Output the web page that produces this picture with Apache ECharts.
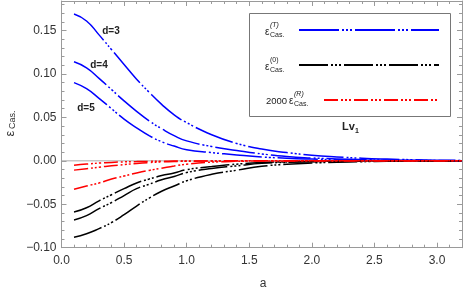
<!DOCTYPE html>
<html><head><meta charset="utf-8">
<script src="https://cdn.jsdelivr.net/npm/echarts@6/dist/echarts.min.js"></script>
<style>html,body{margin:0;padding:0;background:#fff}#c{width:463px;height:295px}</style>
</head><body><div id="c"></div>
<script>
const aValues = [0.1,0.2,0.3,0.4,0.5,0.6,0.7,0.8,0.9,1.0,1.2,1.4,1.6,1.8,2.0,2.2,2.4,2.6,2.8,3.0,3.2];
const epsT_d3 = [0.169,0.161,0.145,0.128,0.111,0.094,0.079,0.065,0.053,0.044,0.030,0.020,0.0135,0.0095,0.0065,0.0045,0.003,0.002,0.0013,0.0008,0.0005];
const epsT_d4 = [0.114,0.107,0.095,0.082,0.069,0.057,0.046,0.037,0.029,0.023,0.0165,0.012,0.008,0.005,0.0033,0.0022,0.0014,0.0009,0.0006,0.0004,0.0002];
const epsT_d5 = [0.090,0.083,0.072,0.060,0.048,0.038,0.029,0.022,0.017,0.0128,0.0095,0.0068,0.0045,0.003,0.002,0.0013,0.0008,0.0005,0.0003,0.0002,0.0001];
const eps0_d3 = [-0.088,-0.084,-0.078,-0.071,-0.062,-0.052,-0.043,-0.035,-0.029,-0.023,-0.0155,-0.0108,-0.0063,-0.004,-0.0025,-0.0016,-0.001,-0.0006,-0.0004,-0.0002,-0.0001];
const eps0_d4 = [-0.068,-0.063,-0.055,-0.048,-0.040,-0.032,-0.027,-0.0218,-0.018,-0.0135,-0.0088,-0.0058,-0.0028,-0.0018,-0.0011,-0.0007,-0.0004,-0.0003,-0.0002,-0.0001,-0.0001];
const eps0_d5 = [-0.059,-0.054,-0.046,-0.039,-0.032,-0.0255,-0.021,-0.017,-0.014,-0.0102,-0.0065,-0.0038,-0.002,-0.0012,-0.0008,-0.0005,-0.0003,-0.0002,-0.0001,-0.0001,0];
const epsR_d3 = [-0.0326,-0.029,-0.0255,-0.021,-0.0175,-0.014,-0.011,-0.0085,-0.006,-0.0038,-0.0015,-0.0005,-0.0002,-0.0001,0,0,0,0,0,0,0];
const epsR_d4 = [-0.0107,-0.009,-0.0073,-0.0057,-0.0043,-0.003,-0.002,-0.0013,-0.0008,-0.0005,-0.0002,-0.0001,0,0,0,0,0,0,0,0,0];
const epsR_d5 = [-0.005,-0.0037,-0.0026,-0.0018,-0.0012,-0.0009,-0.0006,-0.0004,-0.0003,-0.0002,-0.0001,0,0,0,0,0,0,0,0,0,0];
const xTickStep = 0.5, yTickStep = 0.05;

const FONT = 'Liberation Sans, Arial, sans-serif';
const frameColor = '#9a9a9a';
const dashT = [40,3,2,2,2,2,2,3];
const dash0 = [29,3,2,2,2,2,2,3];
const dashR = [14,3,2,2,2,2,2,3];

function pts(ys){ return aValues.map((a,i)=>[a, ys[i]]); }
function curve(ys, color, dash){
  return {type:'line', data:pts(ys), symbol:'none', smooth:0.5, silent:true, z:3,
    lineStyle:{color:color, width:1.5, type:dash}};
}
function fmtY(v){ if (Math.abs(v)<1e-9) return '0.00'; return (v<0?'\u2212':'') + Math.abs(v).toFixed(2); }

function axisBase(pos, min, max, interval, major, labels, fmt){
  return {type:'value', position:pos, min:min, max:max, interval:interval,
    axisLine:{show:major, onZero:false, lineStyle:{color:frameColor, width:1}},
    axisTick:{show:true, inside:true, length: major?5:3, lineStyle:{color:frameColor, width:1}},
    axisLabel:{show:labels, fontSize:12, fontFamily:FONT, color:'#333', margin:6, formatter:fmt, showMaxLabel:false},
    splitLine:{show:false}, minorTick:{show:false}, axisPointer:{show:false}};
}
const fmtX = v => v.toFixed(1);
const xAxes = [
  axisBase('bottom',0,3.2,xTickStep,true,true,fmtX),
  axisBase('bottom',0,3.2,0.1,false,false,fmtX),
  axisBase('top',0,3.2,xTickStep,true,false,fmtX),
  axisBase('top',0,3.2,0.1,false,false,fmtX)
];
const yAxes = [
  axisBase('left',-0.1,0.184,yTickStep,true,true,fmtY),
  axisBase('left',-0.1,0.184,0.01,false,false,fmtY),
  axisBase('right',-0.1,0.184,yTickStep,true,false,fmtY),
  axisBase('right',-0.1,0.184,0.01,false,false,fmtY)
];
xAxes[0].axisLabel.margin = 7;
yAxes[0].axisLabel.margin = 5;

function txt(x,y,text,size,opt){
  return Object.assign({type:'text', x:x, y:y, z:10, style:Object.assign({text:text, fontSize:size, fontFamily:FONT, fill:'#222', align:'left', verticalAlign:'middle'}, opt||{})});
}
function legLine(x1,x2,y,color,dash){
  return {type:'line', z:10, shape:{x1:x1,y1:y,x2:x2,y2:y}, style:{stroke:color, lineWidth:2, lineDash:dash}};
}

const chart = echarts.init(document.getElementById('c'), null, {renderer:'canvas'});
chart.setOption({
  animation:false,
  backgroundColor:'#fff',
  grid:{left:61.5, right:1, top:1, bottom:47.3, containLabel:false, outerBoundsMode:'none'},
  xAxis:xAxes, yAxis:yAxes,
  series:[
    {type:'line', data:[[0,0],[3.2,0]], symbol:'none', silent:true, z:1, lineStyle:{color:'#aaa', width:1}},
    curve(epsT_d3,'#0000ff',dashT), curve(epsT_d4,'#0000ff',dashT), curve(epsT_d5,'#0000ff',dashT),
    curve(eps0_d3,'#000000',dash0), curve(eps0_d4,'#000000',dash0), curve(eps0_d5,'#000000',dash0),
    curve(epsR_d3,'#ff0000',dashR), curve(epsR_d4,'#ff0000',dashR), curve(epsR_d5,'#ff0000',dashR)
  ],
  graphic:[
    {type:'rect', z:9, shape:{x:249.5,y:13.5,width:201,height:103}, style:{fill:'#fff', stroke:'#777', lineWidth:1}},
    txt(265,32,'ε',10), txt(270,25.5,'(T)',7,{fontStyle:'italic'}), txt(270,35.5,'Cas.',7),
    legLine(299,439,30,'#0000ff',dashT),
    txt(265,67,'ε',10), txt(270,60.5,'(0)',7), txt(270,70.5,'Cas.',7),
    legLine(299,439,65,'#000000',dash0),
    txt(266,101,'2000',9.5), txt(289,101,'ε',10), txt(294,94.5,'(R)',7,{fontStyle:'italic'}), txt(294,104.5,'Cas.',7),
    legLine(324,439,100,'#ff0000',dashR),
    txt(342,127,'Lv',11,{fontWeight:'bold'}), txt(355,131,'1',7,{fontWeight:'bold'}),
    txt(111,31,'d=3',10,{fontWeight:'bold', align:'center'}),
    txt(99,65,'d=4',10,{fontWeight:'bold', align:'center'}),
    txt(86,108,'d=5',10,{fontWeight:'bold', align:'center'}),
    txt(263,284,'a',12,{align:'center', fill:'#333'}),
    {type:'group', x:10, y:124, rotation:Math.PI/2, z:10, children:[
      {type:'text', x:-12.5, y:0, style:{text:'ε', fontSize:13, fontFamily:FONT, fill:'#333', align:'left', verticalAlign:'middle'}},
      {type:'text', x:-5, y:3, style:{text:'Cas.', fontSize:9, fontFamily:FONT, fill:'#333', align:'left', verticalAlign:'middle'}}
    ]}
  ]
});
</script></body></html>
